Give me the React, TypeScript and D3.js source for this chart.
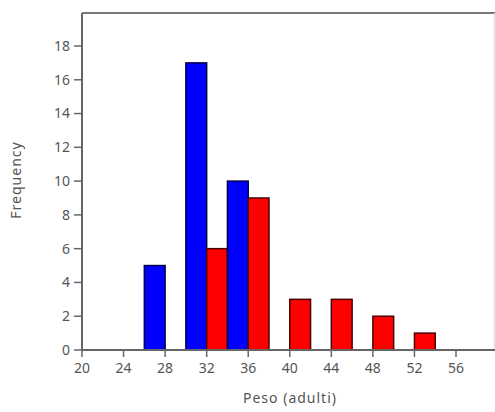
import React from "react";
import * as d3 from "d3";

const binStarts = [26, 30, 34, 38, 42, 46, 50];
const blueCounts = [5, 17, 10, 0, 0, 0, 0];
const redCounts = [0, 6, 9, 3, 3, 2, 1];
const xTicks = [20, 24, 28, 32, 36, 40, 44, 48, 52, 56];
const yTicks = [0, 2, 4, 6, 8, 10, 12, 14, 16, 18];
const xLabel = "Peso (adulti)";
const yLabel = "Frequency";

const W = 495, H = 412;
const left = 82, right = 494, top = 13, bottom = 350;

export default function App() {
  const x = d3.scaleLinear().domain([20, 56]).range([82, 456]);
  const y = d3.scaleLinear().domain([0, 18]).range([bottom, 46]);
  const font = "'Noto Sans', 'DejaVu Sans', sans-serif";
  const bars: { x0: number; x1: number; v: number; fill: string; stroke: string }[] = [];
  binStarts.forEach((b, i) => {
    if (blueCounts[i] > 0) bars.push({ x0: b, x1: b + 2, v: blueCounts[i], fill: "#0000ff", stroke: "#00004a" });
    if (redCounts[i] > 0) bars.push({ x0: b + 2, x1: b + 4, v: redCounts[i], fill: "#ff0000", stroke: "#4a0000" });
  });
  return (
    <svg width={W} height={H} style={{ position: "absolute", left: 0, top: 0, background: "#fff" }}>
      <rect x={0} y={0} width={W} height={H} fill="#fff" />
      <line x1={left} x2={W} y1={top} y2={top} stroke="#777" strokeWidth={2} />
      <line x1={right} x2={right} y1={top} y2={bottom} stroke="#ddd" strokeWidth={1} />
      {bars.map((b, i) => (
        <rect
          key={i}
          x={x(b.x0)}
          y={y(b.v)}
          width={x(b.x1) - x(b.x0)}
          height={y(0) - y(b.v)}
          fill={b.fill}
          stroke={b.stroke}
          strokeWidth={1.5}
        />
      ))}
      <line x1={left} x2={left} y1={top} y2={bottom} stroke="#666" strokeWidth={2} />
      <line x1={left} x2={W} y1={bottom} y2={bottom} stroke="#666" strokeWidth={2} />
      {yTicks.map((t) => (
        <g key={t}>
          <line x1={left - 8} x2={left} y1={y(t)} y2={y(t)} stroke="#666" strokeWidth={1.5} />
          <text x={left - 12} y={y(t)} dy="0.35em" textAnchor="end" fontFamily={font} fontSize={14} fill="#555">
            {t}
          </text>
        </g>
      ))}
      {xTicks.map((t) => (
        <g key={t}>
          <line x1={x(t)} x2={x(t)} y1={bottom} y2={bottom + 7} stroke="#666" strokeWidth={1.5} />
          <text x={x(t)} y={bottom + 18} dy="0.35em" textAnchor="middle" fontFamily={font} fontSize={14} fill="#555">
            {t}
          </text>
        </g>
      ))}
      <text x={290} y={398} dy="0.35em" textAnchor="middle" fontFamily={font} fontSize={14} letterSpacing={1} fill="#555">
        {xLabel}
      </text>
      <text
        transform={`translate(16, 180) rotate(-90)`}
        dy="0.35em"
        textAnchor="middle"
        fontFamily={font}
        fontSize={14}
        letterSpacing={1}
        fill="#555"
      >
        {yLabel}
      </text>
    </svg>
  );
}
